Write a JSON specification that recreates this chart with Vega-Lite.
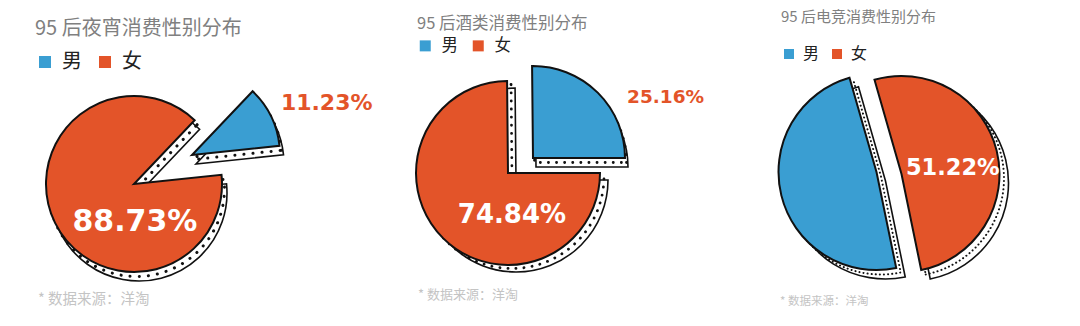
{
  "$schema": "https://vega.github.io/schema/vega-lite/v6.json",
  "padding": 0,
  "background": "white",
  "spacing": 0,
  "bounds": "flush",
  "config": {"view": {"stroke": null}},
  "datasets": {
    "late": [{"gender": "男", "share": 0.1123}, {"gender": "女", "share": 0.8873}],
    "alcohol": [{"gender": "男", "share": 0.2516}, {"gender": "女", "share": 0.7484}],
    "esports": [{"gender": "男", "share": 0.4878}, {"gender": "女", "share": 0.5122}]
  },
  "resolve": {"scale": {"color": "independent", "theta": "independent"}, "legend": {"color": "independent"}},
  "hconcat": [
    {
      "width": 268, "height": 326,
      "data": {"name": "late"},
      "title": {"text": "* 数据来源：洋淘", "orient": "bottom", "anchor": "start", "frame": "group", "dx": 38, "offset": -26, "baseline": "middle", "fontSize": 14.5, "color": "#c4c4c4", "font": "Noto Sans CJK SC", "fontWeight": "normal"},
      "encoding": {
        "theta": {"field": "share", "type": "quantitative", "stack": true, "scale": {"range": [1.4661, 7.7493]}},
        "order": {"field": "gender", "sort": "ascending"}
      },
      "layer": [
        {"mark": {"type": "arc", "radius": 88, "fill": "white", "stroke": "#111", "strokeWidth": 1.6, "xOffset": 5, "yOffset": 30},
         "encoding": {"opacity": {"condition": {"test": "datum.gender === '女'", "value": 1}, "value": 0}}},
        {"mark": {"type": "arc", "radius": 88, "fill": "white", "stroke": "#111", "strokeWidth": 1.6, "xOffset": 62, "yOffset": 1},
         "encoding": {"opacity": {"condition": {"test": "datum.gender === '男'", "value": 1}, "value": 0}}},
        {"mark": {"type": "arc", "radius": 88, "filled": false, "stroke": "#111", "strokeWidth": 3, "strokeCap": "round", "strokeDash": [0.1, 9], "xOffset": 2.5, "yOffset": 25.5},
         "encoding": {"opacity": {"condition": {"test": "datum.gender === '女'", "value": 1}, "value": 0}}},
        {"mark": {"type": "arc", "radius": 88, "filled": false, "stroke": "#111", "strokeWidth": 3, "strokeCap": "round", "strokeDash": [0.1, 9], "xOffset": 60, "yOffset": -3.5},
         "encoding": {"opacity": {"condition": {"test": "datum.gender === '男'", "value": 1}, "value": 0}}},
        {"mark": {"type": "arc", "radius": 88, "stroke": "#111", "strokeWidth": 2, "xOffset": 0, "yOffset": 21},
         "encoding": {
           "color": {"field": "gender", "type": "nominal", "scale": {"domain": ["男", "女"], "range": ["#3A9ED2", "#E35429"]},
             "legend": {"orient": "none", "legendX": 35, "legendY": 19, "direction": "horizontal", "title": "95 后夜宵消费性别分布", "titleFontSize": 20, "titleColor": "#808080", "titleFontWeight": "normal", "titleFont": "Noto Sans CJK SC", "titlePadding": 13, "titleLimit": 0, "labelFontSize": 20, "labelColor": "#222", "labelFont": "Noto Sans CJK SC", "symbolType": "square", "symbolSize": 144, "symbolStrokeWidth": 0, "symbolOpacity": 1, "columnPadding": 13, "labelOffset": 7}},
           "opacity": {"condition": {"test": "datum.gender === '女'", "value": 1}, "value": 0}}},
        {"mark": {"type": "arc", "radius": 88, "stroke": "#111", "strokeWidth": 2, "xOffset": 58, "yOffset": -8},
         "encoding": {
           "color": {"field": "gender", "type": "nominal"},
           "opacity": {"condition": {"test": "datum.gender === '男'", "value": 1}, "value": 0}}},
        {"mark": {"type": "text", "radius": 38, "thetaOffset": -1.138, "yOffset": 21, "fill": "white", "font": "DejaVu Sans", "fontWeight": "bold", "fontSize": 30, "align": "center", "baseline": "middle"},
         "encoding": {
           "text": {"field": "share", "type": "quantitative", "format": ".2%"},
           "opacity": {"condition": {"test": "datum.gender === '女'", "value": 1}, "value": 0}}},
        {"transform": [
           {"window": [{"op": "sum", "field": "share", "as": "cum"}], "sort": [{"field": "gender", "order": "ascending"}], "frame": [null, 0]},
           {"filter": "datum.gender === '男'"}
         ],
         "mark": {"type": "text", "radius": 209, "thetaOffset": -0.293, "yOffset": 21, "fill": "#E35429", "font": "DejaVu Sans", "fontWeight": "bold", "fontSize": 22, "align": "center", "baseline": "middle"},
         "encoding": {
           "theta": {"field": "cum", "type": "quantitative", "stack": null},
           "text": {"field": "share", "type": "quantitative", "format": ".2%"}}}
      ]
    },
    {
      "width": 480, "height": 326,
      "data": {"name": "alcohol"},
      "title": {"text": "* 数据来源：洋淘", "orient": "bottom", "anchor": "start", "frame": "group", "dx": 150, "offset": -31, "baseline": "middle", "fontSize": 13, "color": "#c4c4c4", "font": "Noto Sans CJK SC", "fontWeight": "normal"},
      "encoding": {
        "theta": {"field": "share", "type": "quantitative", "stack": true, "scale": {"range": [1.5708, 7.854]}},
        "order": {"field": "gender", "sort": "ascending"}
      },
      "layer": [
        {"mark": {"type": "arc", "radius": 92, "fill": "white", "stroke": "#111", "strokeWidth": 1.6, "xOffset": 8, "yOffset": 17},
         "encoding": {"opacity": {"condition": {"test": "datum.gender === '女'", "value": 1}, "value": 0}}},
        {"mark": {"type": "arc", "radius": 92, "fill": "white", "stroke": "#111", "strokeWidth": 1.6, "xOffset": 28, "yOffset": 4},
         "encoding": {"opacity": {"condition": {"test": "datum.gender === '男'", "value": 1}, "value": 0}}},
        {"mark": {"type": "arc", "radius": 92, "filled": false, "stroke": "#111", "strokeWidth": 2.8, "strokeCap": "round", "strokeDash": [0.1, 8], "xOffset": 4, "yOffset": 13.5},
         "encoding": {"opacity": {"condition": {"test": "datum.gender === '女'", "value": 1}, "value": 0}}},
        {"mark": {"type": "arc", "radius": 92, "filled": false, "stroke": "#111", "strokeWidth": 2.8, "strokeCap": "round", "strokeDash": [0.1, 8], "xOffset": 26.5, "yOffset": -0.5},
         "encoding": {"opacity": {"condition": {"test": "datum.gender === '男'", "value": 1}, "value": 0}}},
        {"mark": {"type": "arc", "radius": 92, "stroke": "#111", "strokeWidth": 2, "xOffset": 0, "yOffset": 10},
         "encoding": {
           "color": {"field": "gender", "type": "nominal", "scale": {"domain": ["男", "女"], "range": ["#3A9ED2", "#E35429"]},
             "legend": {"orient": "none", "legendX": 149, "legendY": 16, "direction": "horizontal", "title": "95 后酒类消费性别分布", "titleFontSize": 16.5, "titleColor": "#808080", "titleFontWeight": "normal", "titleFont": "Noto Sans CJK SC", "titlePadding": 5, "titleLimit": 0, "labelFontSize": 16.5, "labelColor": "#222", "labelFont": "Noto Sans CJK SC", "symbolType": "square", "symbolSize": 121, "symbolStrokeWidth": 0, "symbolOpacity": 1, "columnPadding": 12, "labelOffset": 8}},
           "opacity": {"condition": {"test": "datum.gender === '女'", "value": 1}, "value": 0}}},
        {"mark": {"type": "arc", "radius": 92, "stroke": "#111", "strokeWidth": 2, "xOffset": 25, "yOffset": -5},
         "encoding": {
           "color": {"field": "gender", "type": "nominal"},
           "opacity": {"condition": {"test": "datum.gender === '男'", "value": 1}, "value": 0}}},
        {"mark": {"type": "text", "radius": 42, "thetaOffset": -0.874, "yOffset": 10, "fill": "white", "font": "DejaVu Sans", "fontWeight": "bold", "fontSize": 26, "align": "center", "baseline": "middle"},
         "encoding": {
           "text": {"field": "share", "type": "quantitative", "format": ".2%"},
           "opacity": {"condition": {"test": "datum.gender === '女'", "value": 1}, "value": 0}}},
        {"mark": {"type": "text", "radius": 175, "thetaOffset": 0.34, "yOffset": 10, "fill": "#E35429", "font": "DejaVu Sans", "fontWeight": "bold", "fontSize": 18.5, "align": "center", "baseline": "middle"},
         "encoding": {
           "text": {"field": "share", "type": "quantitative", "format": ".2%"},
           "opacity": {"condition": {"test": "datum.gender === '男'", "value": 1}, "value": 0}}}
      ]
    },
    {
      "width": 276, "height": 326,
      "data": {"name": "esports"},
      "title": {"text": "* 数据来源：洋淘", "orient": "bottom", "anchor": "start", "frame": "group", "dx": 32, "offset": -24, "baseline": "middle", "fontSize": 11.5, "color": "#c4c4c4", "font": "Noto Sans CJK SC", "fontWeight": "normal"},
      "encoding": {
        "theta": {"field": "share", "type": "quantitative", "stack": true, "scale": {"range": [6.0039, 12.2871]}},
        "order": {"field": "gender", "sort": "ascending"}
      },
      "layer": [
        {"mark": {"type": "arc", "radius": 98, "fill": "white", "stroke": "#111", "strokeWidth": 1.6, "xOffset": 24.5, "yOffset": 20},
         "encoding": {"opacity": {"condition": {"test": "datum.gender === '女'", "value": 1}, "value": 0}}},
        {"mark": {"type": "arc", "radius": 98, "fill": "white", "stroke": "#111", "strokeWidth": 1.6, "xOffset": -0.5, "yOffset": 18},
         "encoding": {"opacity": {"condition": {"test": "datum.gender === '男'", "value": 1}, "value": 0}}},
        {"mark": {"type": "arc", "radius": 98, "filled": false, "stroke": "#111", "strokeWidth": 2, "strokeCap": "round", "strokeDash": [0.1, 4], "xOffset": 20, "yOffset": 15.5},
         "encoding": {"opacity": {"condition": {"test": "datum.gender === '女'", "value": 1}, "value": 0}}},
        {"mark": {"type": "arc", "radius": 98, "filled": false, "stroke": "#111", "strokeWidth": 2, "strokeCap": "round", "strokeDash": [0.1, 4], "xOffset": -5, "yOffset": 13.5},
         "encoding": {"opacity": {"condition": {"test": "datum.gender === '男'", "value": 1}, "value": 0}}},
        {"mark": {"type": "arc", "radius": 98, "stroke": "#111", "strokeWidth": 2, "xOffset": 15.5, "yOffset": 11},
         "encoding": {
           "color": {"field": "gender", "type": "nominal", "scale": {"domain": ["男", "女"], "range": ["#3A9ED2", "#E35429"]},
             "legend": {"orient": "none", "legendX": 33, "legendY": 10, "direction": "horizontal", "title": "95 后电竞消费性别分布", "titleFontSize": 15, "titleColor": "#808080", "titleFontWeight": "normal", "titleFont": "Noto Sans CJK SC", "titlePadding": 21, "titleLimit": 0, "labelFontSize": 16, "labelColor": "#222", "labelFont": "Noto Sans CJK SC", "symbolType": "square", "symbolSize": 100, "symbolStrokeWidth": 0, "symbolOpacity": 1, "columnPadding": 9, "labelOffset": 6}},
           "opacity": {"condition": {"test": "datum.gender === '女'", "value": 1}, "value": 0}}},
        {"mark": {"type": "arc", "radius": 98, "stroke": "#111", "strokeWidth": 2, "xOffset": -9.5, "yOffset": 9},
         "encoding": {
           "color": {"field": "gender", "type": "nominal"},
           "opacity": {"condition": {"test": "datum.gender === '男'", "value": 1}, "value": 0}}},
        {"mark": {"type": "text", "radius": 67, "thetaOffset": 0.166, "yOffset": 10, "fill": "white", "font": "DejaVu Sans", "fontWeight": "bold", "fontSize": 22.5, "align": "center", "baseline": "middle"},
         "encoding": {
           "text": {"field": "share", "type": "quantitative", "format": ".2%"},
           "opacity": {"condition": {"test": "datum.gender === '女'", "value": 1}, "value": 0}}}
      ]
    }
  ]
}
